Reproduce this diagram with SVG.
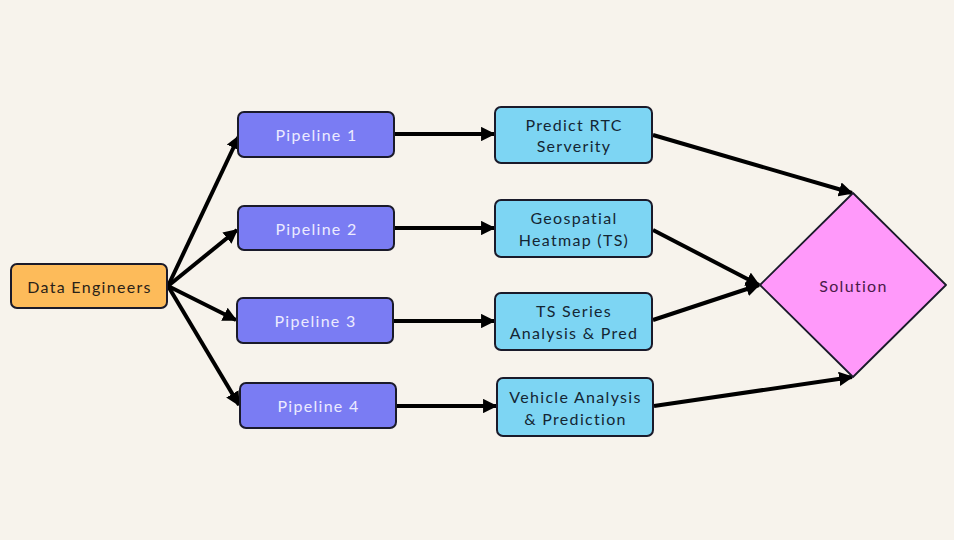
<svg xmlns="http://www.w3.org/2000/svg" width="954" height="540" viewBox="0 0 954 540">
<defs>
<style>
.bg{fill:#F7F3EC}
.node{stroke:#1a1a2a;stroke-width:2}
.src{fill:#FDBB5A}
.pipe{fill:#7A7CF3}
.out{fill:#7DD5F3}
.sol{fill:#FF99FA;stroke-width:1.8}
text{font-family:Lato,"Open Sans","Liberation Sans",sans-serif;font-size:16px;letter-spacing:1.3px;text-anchor:middle;dominant-baseline:central}
.t-dark{fill:#2a2218}
.t-pipe{fill:#ECEBFF}
.t-out{fill:#142634}
.t-sol{fill:#4a1a48}
.edge{stroke:#000;stroke-width:4;fill:none;marker-end:url(#ah)}
</style>
<marker id="ah" viewBox="0 0 10 10" refX="9" refY="5" markerWidth="3.6" markerHeight="3.6" orient="auto" markerUnits="strokeWidth">
<path d="M0,0 L10,5 L0,10 z" fill="#000"/>
</marker>
</defs>
<rect class="bg" x="0" y="0" width="954" height="540"/>
<g id="edges">
<line class="edge" x1="168" y1="286" x2="239" y2="136"/>
<line class="edge" x1="168" y1="286" x2="237" y2="230"/>
<line class="edge" x1="168" y1="286" x2="236" y2="320"/>
<line class="edge" x1="168" y1="286" x2="239" y2="405"/>
<line class="edge" x1="395" y1="134" x2="494" y2="134"/>
<line class="edge" x1="395" y1="228" x2="494" y2="228"/>
<line class="edge" x1="394" y1="321" x2="494" y2="321"/>
<line class="edge" x1="397" y1="406" x2="496" y2="406"/>
<line class="edge" x1="653" y1="135" x2="852" y2="193"/>
<line class="edge" x1="653" y1="230" x2="759" y2="285"/>
<line class="edge" x1="653" y1="320" x2="759" y2="285"/>
<line class="edge" x1="654" y1="406" x2="852" y2="377"/>
</g>
<g id="data-engineers">
<rect class="node src" x="11" y="264" width="156" height="44" rx="6"/>
<text class="t-dark" x="89.5" y="286">Data Engineers</text>
</g>
<g id="pipeline-1">
<rect class="node pipe" x="238" y="112" width="156" height="45" rx="6"/>
<text class="t-pipe" x="316.5" y="134.5">Pipeline 1</text>
</g>
<g id="pipeline-2">
<rect class="node pipe" x="238" y="206" width="156" height="44" rx="6"/>
<text class="t-pipe" x="316.5" y="228">Pipeline 2</text>
</g>
<g id="pipeline-3">
<rect class="node pipe" x="237" y="298" width="156" height="45" rx="6"/>
<text class="t-pipe" x="315.5" y="320.5">Pipeline 3</text>
</g>
<g id="pipeline-4">
<rect class="node pipe" x="240" y="383" width="156" height="45" rx="6"/>
<text class="t-pipe" x="318.5" y="405.5">Pipeline 4</text>
</g>
<g id="predict-rtc">
<rect class="node out" x="495" y="107" width="157" height="56" rx="6"/>
<text class="t-out" x="574" y="124">Predict RTC</text>
<text class="t-out" x="574" y="145">Serverity</text>
</g>
<g id="geospatial">
<rect class="node out" x="495" y="200" width="157" height="57" rx="6"/>
<text class="t-out" x="574" y="217">Geospatial</text>
<text class="t-out" x="574" y="239">Heatmap (TS)</text>
</g>
<g id="ts-series">
<rect class="node out" x="495" y="293" width="157" height="57" rx="6"/>
<text class="t-out" x="574" y="310">TS Series</text>
<text class="t-out" x="574" y="332">Analysis &amp; Pred</text>
</g>
<g id="vehicle">
<rect class="node out" x="497" y="378" width="156" height="58" rx="6"/>
<text class="t-out" x="575.5" y="396">Vehicle Analysis</text>
<text class="t-out" x="575.5" y="418">&amp; Prediction</text>
</g>
<g id="solution">
<path class="node sol" stroke-linejoin="round" d="M853,193 L946,285 L853,377 L760,285 Z"/>
<text class="t-sol" x="853.5" y="285">Solution</text>
</g>
</svg>
